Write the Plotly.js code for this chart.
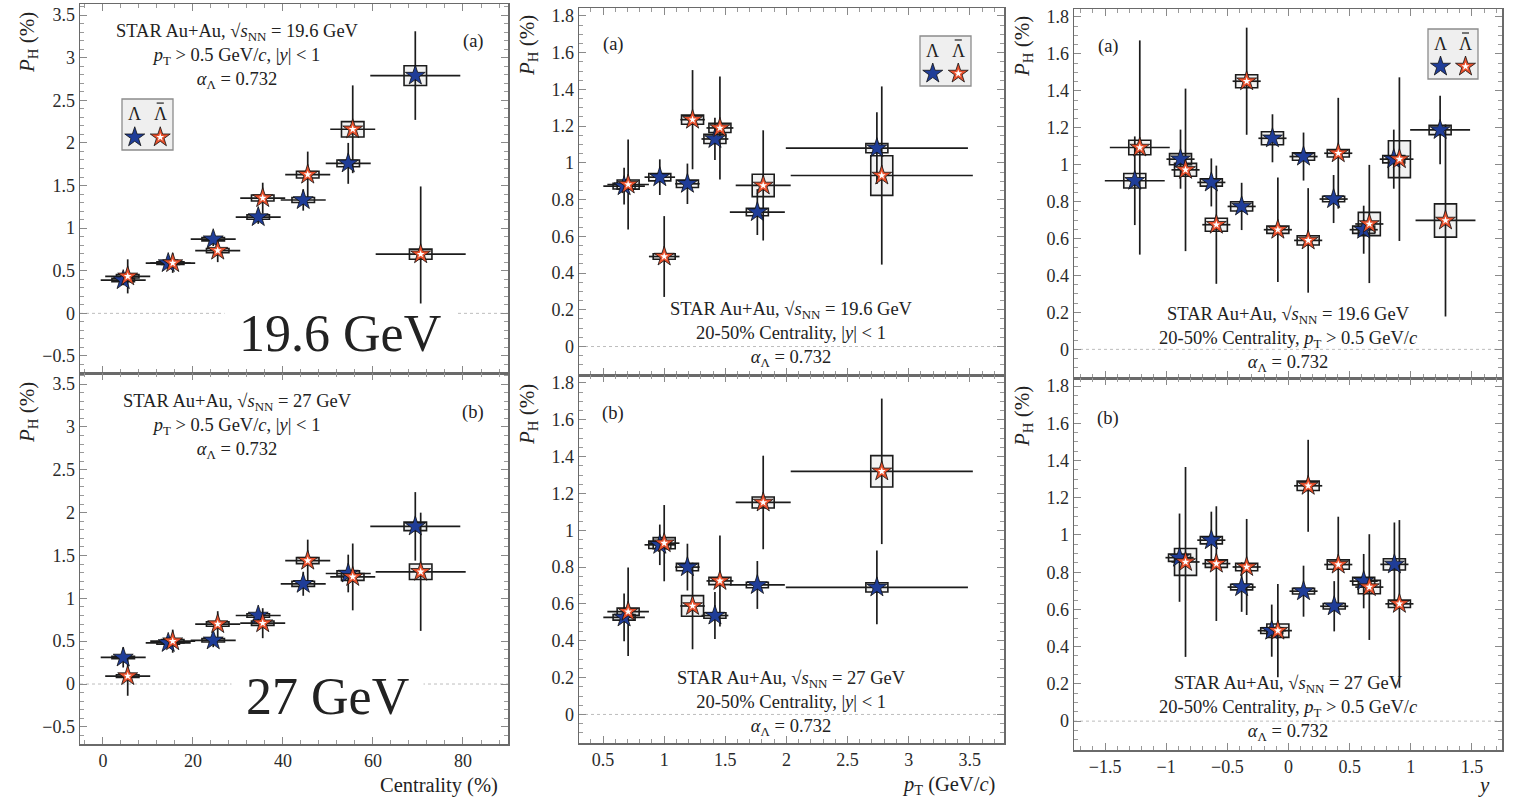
<!DOCTYPE html>
<html>
<head>
<meta charset="utf-8">
<script src="https://cdn.plot.ly/plotly-3.0.1.min.js"></script>
<style>html,body{margin:0;padding:0;background:#fff;}#chart{width:1517px;height:800px;}</style>
</head>
<body>
<div id="chart"></div>
<script>
// ---------------- DATA ----------------
// Centrality dependence
const centX_L  = [4.5, 14.5, 24.5, 34.5, 44.5, 54.5, 69.4];
const centX_Lb = [5.5, 15.5, 25.5, 35.5, 45.5, 55.5, 70.6];
const centXerr = [5, 5, 5, 5, 5, 5, 10];
// 19.6 GeV vs centrality
const c196_L      = [0.39, 0.59, 0.87, 1.13, 1.33, 1.76, 2.79];
const c196_L_stat = [0.06, 0.06, 0.08, 0.08, 0.125, 0.24, 0.52];
const c196_L_sys  = [0.02, 0.015, 0.02, 0.025, 0.03, 0.04, 0.116];
const c196_Lb      = [0.434, 0.59, 0.736, 1.353, 1.628, 2.16, 0.694];
const c196_Lb_stat = [0.2, 0.115, 0.135, 0.18, 0.27, 0.515, 0.795];
const c196_Lb_sys  = [0.02, 0.015, 0.025, 0.035, 0.04, 0.09, 0.06];
// 27 GeV vs centrality
const c27_L      = [0.31, 0.48, 0.51, 0.80, 1.17, 1.29, 1.84];
const c27_L_stat = [0.117, 0.05, 0.08, 0.07, 0.14, 0.22, 0.40];
const c27_L_sys  = [0.015, 0.015, 0.02, 0.02, 0.03, 0.03, 0.05];
const c27_Lb      = [0.093, 0.50, 0.70, 0.71, 1.44, 1.25, 1.31];
const c27_Lb_stat = [0.23, 0.135, 0.15, 0.175, 0.245, 0.39, 0.69];
const c27_Lb_sys  = [0.015, 0.02, 0.025, 0.025, 0.035, 0.04, 0.09];

// pT dependence
const ptX_L  = [0.672, 0.964, 1.19, 1.415, 1.762, 2.74];
const ptX_Lb = [0.705, 1.0, 1.232, 1.456, 1.81, 2.78];
const ptXerr = [0.17, 0.125, 0.1, 0.11, 0.225, 0.745];
const pt196_L      = [0.873, 0.922, 0.886, 1.13, 0.732, 1.08];
const pt196_L_stat = [0.10, 0.097, 0.11, 0.115, 0.125, 0.195];
const pt196_L_sys  = [0.015, 0.02, 0.02, 0.025, 0.02, 0.025];
const pt196_Lb      = [0.882, 0.49, 1.235, 1.19, 0.877, 0.931];
const pt196_Lb_stat = [0.245, 0.22, 0.27, 0.28, 0.30, 0.485];
const pt196_Lb_sys  = [0.025, 0.015, 0.025, 0.025, 0.061, 0.108];
const pt27_L      = [0.527, 0.921, 0.80, 0.537, 0.703, 0.69];
const pt27_L_stat = [0.13, 0.11, 0.127, 0.128, 0.13, 0.2];
const pt27_L_sys  = [0.015, 0.02, 0.02, 0.015, 0.015, 0.025];
const pt27_Lb      = [0.558, 0.93, 0.589, 0.725, 1.151, 1.32];
const pt27_Lb_stat = [0.24, 0.207, 0.235, 0.247, 0.254, 0.395];
const pt27_Lb_sys  = [0.02, 0.03, 0.056, 0.02, 0.03, 0.085];

// rapidity dependence, 19.6 GeV (10 bins)
const y196X_L  = [-1.257, -0.883, -0.631, -0.383, -0.131, 0.123, 0.369, 0.615, 0.861, 1.24];
const y196X_Lb = [-1.216, -0.842, -0.59, -0.342, -0.087, 0.161, 0.407, 0.661, 0.907, 1.284];
const y196Xerr = [0.245, 0.115, 0.115, 0.115, 0.115, 0.115, 0.115, 0.115, 0.115, 0.245];
const y196_L      = [0.913, 1.03, 0.904, 0.774, 1.143, 1.044, 0.814, 0.648, 1.03, 1.188];
const y196_L_stat = [0.24, 0.16, 0.13, 0.128, 0.13, 0.13, 0.13, 0.13, 0.16, 0.185];
const y196_L_sys  = [0.039, 0.03, 0.02, 0.025, 0.035, 0.02, 0.015, 0.02, 0.02, 0.025];
const y196_Lb      = [1.093, 0.972, 0.675, 1.452, 0.648, 0.59, 1.062, 0.679, 1.03, 0.698];
const y196_Lb_stat = [0.58, 0.44, 0.32, 0.29, 0.283, 0.283, 0.30, 0.32, 0.443, 0.52];
const y196_Lb_sys  = [0.039, 0.035, 0.035, 0.035, 0.02, 0.025, 0.02, 0.063, 0.10, 0.09];
// rapidity dependence, 27 GeV (8 bins)
const y27X_L  = [-0.891, -0.631, -0.383, -0.137, 0.123, 0.374, 0.615, 0.866];
const y27X_Lb = [-0.842, -0.59, -0.342, -0.087, 0.161, 0.407, 0.661, 0.907];
const y27Xerr = [0.115, 0.115, 0.115, 0.115, 0.115, 0.115, 0.115, 0.115];
const y27_L      = [0.878, 0.972, 0.72, 0.486, 0.698, 0.617, 0.752, 0.842];
const y27_L_stat = [0.237, 0.153, 0.133, 0.14, 0.137, 0.135, 0.146, 0.225];
const y27_L_sys  = [0.02, 0.02, 0.015, 0.015, 0.015, 0.015, 0.02, 0.03];
const y27_Lb      = [0.855, 0.846, 0.828, 0.486, 1.264, 0.841, 0.72, 0.63];
const y27_Lb_stat = [0.51, 0.308, 0.258, 0.25, 0.247, 0.257, 0.284, 0.45];
const y27_Lb_sys  = [0.072, 0.02, 0.02, 0.036, 0.025, 0.025, 0.036, 0.02];

// legend key positions (inside the legend box, normalised)
const legendKeyX = [0.25, 0.75];
const legendKeyY = [0.25, 0.25];
const legendLabels = ['Λ', 'Λ'];
const legendBar = [false, true];   // anti-lambda gets an overbar

// ---------------- STYLE ----------------
const W = 1517, H = 800;
const SERIF = '"Liberation Serif", "DejaVu Serif", serif';
const BLUE = '#1f3d98';
const RED = '#e8502c';
const INK = '#1c1c1c';
const px = v => v / W;
const py = v => 1 - v / H;

const traces = [];
const shapes = [];
const annotations = [];

function panel(n, xL, xLb, xerr, L, Ls, Lsys, Lb, Lbs, Lbsys, boxHalf) {
  const xa = n === 1 ? 'x' : 'x' + n;
  const ya = n === 1 ? 'y' : 'y' + n;
  // zero line
  shapes.push({type:'line', xref: xa + ' domain', yref: ya, x0:0, x1:1, y0:0, y1:0,
               line:{color:'#bdbdbd', width:1, dash:'dot'}, layer:'below'});
  // systematic boxes
  const addBoxes = (xs, ys, ss) => xs.forEach((xv, i) => {
    shapes.push({type:'rect', xref:xa, yref:ya, x0:xv - boxHalf, x1:xv + boxHalf,
                 y0:ys[i] - ss[i], y1:ys[i] + ss[i],
                 line:{color:INK, width:1.6}, fillcolor:'rgba(150,150,150,0.12)', layer:'below'});
  });
  addBoxes(xL, L, Lsys);
  addBoxes(xLb, Lb, Lbsys);
  // error bars
  const err = (xs, ys, es) => ({
    type:'scatter', mode:'markers', x:xs, y:ys, xaxis:xa, yaxis:ya,
    marker:{size:1, color:'rgba(0,0,0,0)'}, hoverinfo:'skip',
    error_x:{type:'data', array:xerr, visible:true, width:0, thickness:1.7, color:INK},
    error_y:{type:'data', array:es, visible:true, width:0, thickness:1.7, color:INK}
  });
  traces.push(err(xL, L, Ls));
  traces.push(err(xLb, Lb, Lbs));
  // markers
  traces.push({type:'scatter', mode:'markers', x:xL, y:L, xaxis:xa, yaxis:ya, hoverinfo:'skip',
               marker:{symbol:'star', size:15, color:BLUE, line:{color:'#111', width:0.8}}});
  traces.push({type:'scatter', mode:'markers', x:xLb, y:Lb, xaxis:xa, yaxis:ya, hoverinfo:'skip',
               marker:{symbol:'star', size:15, color:RED, line:{color:'#111', width:0.8}}});
  traces.push({type:'scatter', mode:'markers', x:xLb, y:Lb, xaxis:xa, yaxis:ya, hoverinfo:'skip',
               marker:{symbol:'star', size:6, color:'#ffffff', line:{width:0}}});
}

panel(1, centX_L, centX_Lb, centXerr, c196_L, c196_L_stat, c196_L_sys, c196_Lb, c196_Lb_stat, c196_Lb_sys, 2.5);
panel(2, centX_L, centX_Lb, centXerr, c27_L, c27_L_stat, c27_L_sys, c27_Lb, c27_Lb_stat, c27_Lb_sys, 2.5);
panel(3, ptX_L, ptX_Lb, ptXerr, pt196_L, pt196_L_stat, pt196_L_sys, pt196_Lb, pt196_Lb_stat, pt196_Lb_sys, 0.09);
panel(4, ptX_L, ptX_Lb, ptXerr, pt27_L, pt27_L_stat, pt27_L_sys, pt27_Lb, pt27_Lb_stat, pt27_Lb_sys, 0.09);
panel(5, y196X_L, y196X_Lb, y196Xerr, y196_L, y196_L_stat, y196_L_sys, y196_Lb, y196_Lb_stat, y196_Lb_sys, 0.09);
panel(6, y27X_L, y27X_Lb, y27Xerr, y27_L, y27_L_stat, y27_L_sys, y27_Lb, y27_Lb_stat, y27_Lb_sys, 0.09);

// legends (top row)
function legend(n) {
  const xa = 'x' + n, ya = 'y' + n;
  shapes.push({type:'rect', xref:xa + ' domain', yref:ya + ' domain', x0:0, x1:1, y0:0, y1:1,
               line:{color:'#8c8c8c', width:1.3}, fillcolor:'#efefef', layer:'below'});
  traces.push({type:'scatter', mode:'markers', x:[legendKeyX[0]], y:[legendKeyY[0]], xaxis:xa, yaxis:ya, hoverinfo:'skip',
               marker:{symbol:'star', size:15, color:BLUE, line:{color:'#111', width:0.8}}});
  traces.push({type:'scatter', mode:'markers', x:[legendKeyX[1]], y:[legendKeyY[1]], xaxis:xa, yaxis:ya, hoverinfo:'skip',
               marker:{symbol:'star', size:15, color:RED, line:{color:'#111', width:0.8}}});
  traces.push({type:'scatter', mode:'markers', x:[legendKeyX[1]], y:[legendKeyY[1]], xaxis:xa, yaxis:ya, hoverinfo:'skip',
               marker:{symbol:'star', size:6, color:'#ffffff', line:{width:0}}});
  legendLabels.forEach((t, i) => {
    annotations.push({xref:xa, yref:ya, x:legendKeyX[i], y:0.70, text:t,
      showarrow:false, xanchor:'center', yanchor:'middle', font:{family:SERIF, size:18, color:'#222'}});
    if (legendBar[i]) shapes.push({type:'line', xref:xa, yref:ya, x0:legendKeyX[i] - 0.07, x1:legendKeyX[i] + 0.07,
      y0:0.92, y1:0.92, line:{color:'#222', width:1.2}});
  });
}
legend(7); legend(8); legend(9);

// ---------------- AXES ----------------
function ax(d0, d1, range, dtick, minor, anchor, extra) {
  return Object.assign({
    domain:[d0, d1], range:range, anchor:anchor, autorange:false,
    showline:true, linecolor:'#6a6a6a', linewidth:1.5, mirror:'allticks',
    ticks:'inside', ticklen:7, tickwidth:1, tickcolor:'#8a8a8a',
    dtick:dtick, tick0:0, showgrid:false, zeroline:false,
    minor:{ticks:'inside', ticklen:4, tickwidth:1, tickcolor:'#9a9a9a', dtick:minor, tick0:0, showgrid:false},
    tickfont:{family:SERIF, size:18, color:'#2a2a2a'}, fixedrange:true
  }, extra || {});
}
const hid = (d0, d1, anchor) => ({domain:[d0, d1], range:[0, 1], anchor:anchor, visible:false, fixedrange:true});

const LX = [px(80), px(508)], MX = [px(579), px(1004)], RX = [px(1074), px(1502)];
const cRange = [-5.1, 90], ptRange = [0.303, 3.78], yRange = [-1.754, 1.746];
const leftY = [-0.7, 3.63], rightY = [-0.155, 1.843];

const layout = {
  width: W, height: H, margin:{l:0, r:0, t:0, b:0},
  paper_bgcolor:'#ffffff', plot_bgcolor:'rgba(0,0,0,0)', showlegend:false,
  font:{family:SERIF, color:'#222'},
  xaxis:  ax(LX[0], LX[1], cRange, 20, 4, 'y', {showticklabels:false}),
  yaxis:  ax(py(373), py(4), leftY, 0.5, 0.1, 'x'),
  xaxis2: ax(LX[0], LX[1], cRange, 20, 4, 'y2'),
  yaxis2: ax(py(744), py(373), leftY, 0.5, 0.1, 'x2'),
  xaxis3: ax(MX[0], MX[1], ptRange, 0.5, 0.1, 'y3', {showticklabels:false}),
  yaxis3: ax(py(375), py(8), rightY, 0.2, 0.05, 'x3'),
  xaxis4: ax(MX[0], MX[1], ptRange, 0.5, 0.1, 'y4'),
  yaxis4: ax(py(743), py(375), rightY, 0.2, 0.05, 'x4'),
  xaxis5: ax(RX[0], RX[1], yRange, 0.5, 0.1, 'y5', {showticklabels:false}),
  yaxis5: ax(py(378), py(9), rightY, 0.2, 0.05, 'x5'),
  xaxis6: ax(RX[0], RX[1], yRange, 0.5, 0.1, 'y6'),
  yaxis6: ax(py(750), py(378), rightY, 0.2, 0.05, 'x6'),
  xaxis7: hid(px(122), px(173), 'y7'), yaxis7: hid(py(150), py(99), 'x7'),
  xaxis8: hid(px(920), px(971), 'y8'), yaxis8: hid(py(86), py(36), 'x8'),
  xaxis9: hid(px(1428), px(1478), 'y9'), yaxis9: hid(py(79), py(29), 'x9'),
  shapes: shapes,
  annotations: annotations
};

// ---------------- TEXT ----------------
const txt = (x, y, text, size, opts) => annotations.push(Object.assign({
  xref:'paper', yref:'paper', x:px(x), y:py(y), text:text, showarrow:false,
  xanchor:'center', yanchor:'middle', font:{family:SERIF, size:size, color:'#222'}
}, opts || {}));

const sq = '√<i>s</i><sub>NN</sub>';
const alpha = '<i>α</i><sub>Λ</sub> = 0.732';
const ptcut = '<i>p</i><sub>T</sub> > 0.5 GeV/<i>c</i>';
const ycut = '|<i>y</i>| < 1';
const FS = 18.5;

txt(237, 56, 'STAR Au+Au, ' + sq + ' = 19.6 GeV<br>' + ptcut + ', ' + ycut + '<br>' + alpha, FS);
txt(237, 426, 'STAR Au+Au, ' + sq + ' = 27 GeV<br>' + ptcut + ', ' + ycut + '<br>' + alpha, FS);
txt(791, 335, 'STAR Au+Au, ' + sq + ' = 19.6 GeV<br>20-50% Centrality, ' + ycut + '<br>' + alpha, FS);
txt(791, 703, 'STAR Au+Au, ' + sq + ' = 27 GeV<br>20-50% Centrality, ' + ycut + '<br>' + alpha, FS);
txt(1288, 339, 'STAR Au+Au, ' + sq + ' = 19.6 GeV<br>20-50% Centrality, ' + ptcut + '<br>' + alpha, FS);
txt(1288, 708, 'STAR Au+Au, ' + sq + ' = 27 GeV<br>20-50% Centrality, ' + ptcut + '<br>' + alpha, FS);

txt(473, 42, '(a)', FS); txt(473, 412, '(b)', FS);
txt(613, 44, '(a)', FS); txt(613, 413, '(b)', FS);
txt(1108, 47, '(a)', FS); txt(1108, 418, '(b)', FS);

txt(340, 333, '\u00a019.6 GeV\u00a0', 52, {bgcolor:'#ffffff', borderpad:1});
txt(327, 696, '\u00a027 GeV\u00a0', 52, {bgcolor:'#ffffff', borderpad:1});

const ytitle = '<i>P</i><sub>H</sub> (%)';
[[28, 43], [28, 413], [528, 46], [528, 415], [1023, 47], [1023, 417]].forEach(p =>
  txt(p[0], p[1], ytitle, 21, {textangle:-90}));

txt(500, 785, 'Centrality (%)', 20.5, {xanchor:'right'});
txt(997, 785, '<i>p</i><sub>T</sub> (GeV/<i>c</i>)', 20.5, {xanchor:'right'});
txt(1492, 785, '<i>y</i>', 21, {xanchor:'right'});

Plotly.newPlot('chart', traces, layout, {staticPlot:true, displayModeBar:false});
</script>
</body>
</html>
